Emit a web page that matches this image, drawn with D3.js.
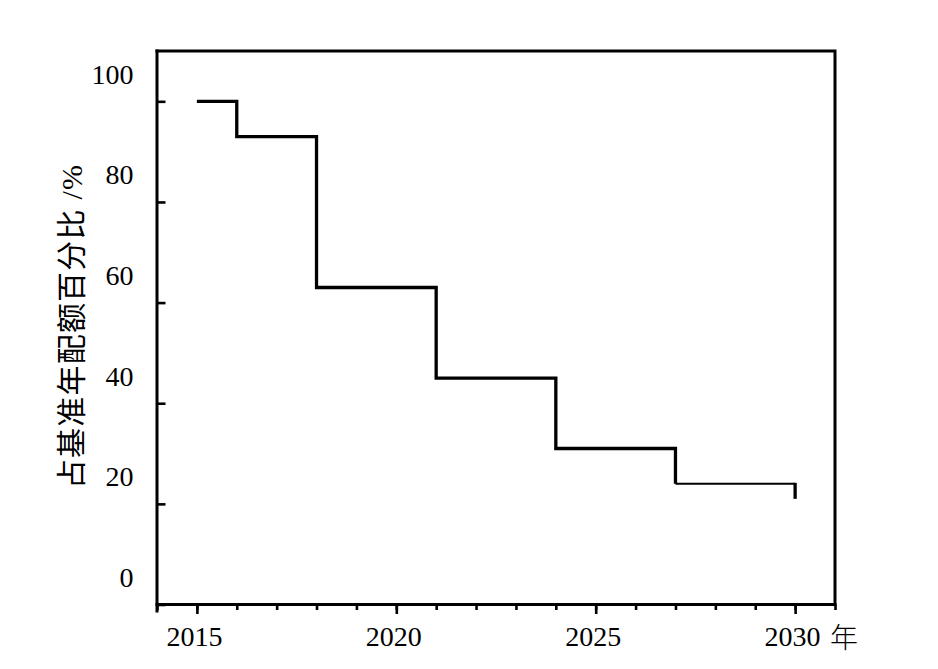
<!DOCTYPE html>
<html>
<head>
<meta charset="utf-8">
<script src="https://cdn.jsdelivr.net/npm/d3@7"></script>
<style>
  html, body { margin: 0; padding: 0; background: #fff; }
  svg { display: block; }
  text { font-family: "Liberation Serif", "Noto Sans CJK SC", serif; fill: #000; }
</style>
</head>
<body>
<svg id="chart" width="938" height="669"></svg>
<script>
(function () {
// ---- data ----
const years = [2015, 2016, 2018, 2021, 2024, 2027, 2030];
const quota = [100, 93, 63, 45, 31, 24, 21];
const yTickValues = [0, 20, 40, 60, 80, 100];
const xMajorTicks = [2015, 2020, 2025, 2030];
const yTitle = "占基准年配额百分比 /%";
const xUnit = "年";

// ---- layout ----
const svg = d3.select("#chart");
const mLeft = 157, mRight = 835, mTop = 51, mBottom = 604.5;

const x = d3.scaleLinear().domain([2014, 2031]).range([mLeft, mRight]);
const y = d3.scaleLinear().domain([0, 110]).range([mBottom, mTop]);

const frameW = 3;

// minor x ticks (every year)
const minorYears = d3.range(2014, 2032);
const gMinor = svg.append("g")
  .attr("transform", `translate(0,${mBottom})`)
  .call(d3.axisBottom(x).tickValues(minorYears).tickSize(5.5).tickSizeOuter(0).tickFormat(""));
gMinor.select(".domain").remove();
gMinor.selectAll(".tick line").attr("stroke", "#000").attr("stroke-width", 2.6);

// major x ticks with labels
const gX = svg.append("g")
  .attr("transform", `translate(0,${mBottom})`)
  .call(d3.axisBottom(x).tickValues(xMajorTicks).tickSize(9.5).tickSizeOuter(0)
    .tickPadding(12.5).tickFormat(d3.format("d")));
gX.select(".domain").attr("stroke", "#000").attr("stroke-width", frameW)
  .attr("d", `M${mLeft - 1.5},0H${mRight + 1.5}`);
gX.selectAll(".tick line").attr("stroke", "#000").attr("stroke-width", 2.6);
gX.selectAll(".tick text").attr("font-size", 28).attr("dx", -3)
  .style("font-family", "'Liberation Serif', serif");

// unit after the last year label
svg.append("text")
  .attr("x", x(2030) + 35)
  .attr("y", mBottom + 43)
  .attr("font-size", 28)
  .style("font-family", "'Noto Sans CJK SC', sans-serif")
  .style("font-weight", 300)
  .text(xUnit);

// left axis (ticks inward)
const gY = svg.append("g")
  .attr("transform", `translate(${mLeft},0)`)
  .call(d3.axisLeft(y).tickValues(yTickValues).tickSize(-8.5).tickSizeOuter(0)
    .tickPadding(23.5).tickFormat(d3.format("d")));
gY.select(".domain").attr("stroke", "#000").attr("stroke-width", frameW)
  .attr("d", `M0,${mTop - 1.5}V${mBottom + 8}`);
gY.selectAll(".tick line").attr("stroke", "#000").attr("stroke-width", 2.6);
gY.selectAll(".tick text").attr("font-size", 28).attr("y", -27)
  .style("font-family", "'Liberation Serif', serif");

// top and right frame lines
svg.append("path")
  .attr("d", `M${mLeft - 1.5},${mTop}H${mRight}V${mBottom}`)
  .attr("fill", "none").attr("stroke", "#000").attr("stroke-width", frameW);

// step line
const pts = years.map((yr, i) => [yr, quota[i]]);
const n = pts.length;
const lineGen = d3.line().x(d => x(d[0])).y(d => y(d[1])).curve(d3.curveStepAfter);
// thick part: 2015 .. 2027
svg.append("path")
  .attr("d", lineGen(pts.slice(0, n - 1)))
  .attr("fill", "none").attr("stroke", "#000").attr("stroke-width", 3.3)
  .attr("stroke-linejoin", "miter").attr("stroke-linecap", "butt");
// thin last level 2027 .. 2030
svg.append("line")
  .attr("x1", x(years[n - 2])).attr("x2", x(years[n - 1]))
  .attr("y1", y(quota[n - 2])).attr("y2", y(quota[n - 2]))
  .attr("stroke", "#000").attr("stroke-width", 1.8);
// final drop at 2030
svg.append("line")
  .attr("x1", x(years[n - 1])).attr("x2", x(years[n - 1]))
  .attr("y1", y(quota[n - 2]) - 0.9).attr("y2", y(quota[n - 1]))
  .attr("stroke", "#000").attr("stroke-width", 3.3);

// y title
svg.append("text")
  .attr("transform", `translate(71,326.5) rotate(-90)`)
  .attr("text-anchor", "middle")
  .attr("dominant-baseline", "central")
  .attr("font-size", 30)
  .attr("letter-spacing", 1.2)
  .style("font-family", "'Liberation Serif', 'Noto Sans CJK SC', serif")
  .text(yTitle);
})();
</script>
</body>
</html>
